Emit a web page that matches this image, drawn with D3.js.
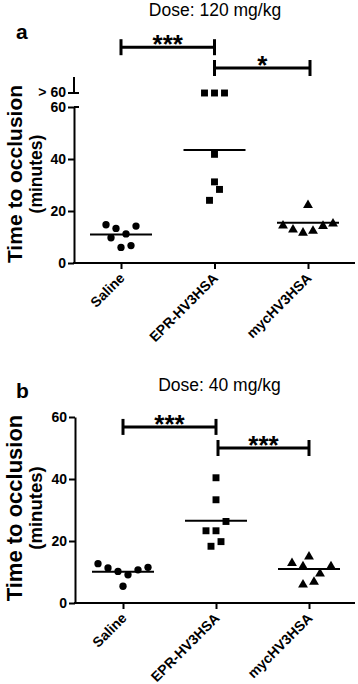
<!DOCTYPE html>
<html>
<head>
<meta charset="utf-8">
<script src="https://cdn.jsdelivr.net/npm/d3@7"></script>
<style>
  html, body { margin: 0; padding: 0; background: #fff; }
  svg { display: block; font-family: Arial, "Liberation Sans", sans-serif; }
</style>
</head>
<body>
<svg id="chart" width="358" height="684"></svg>
<script>
// ---------------- DATA ----------------
const categories = ["Saline", "EPR-HV3HSA", "mycHV3HSA"];
const yTickValues = [0, 20, 40, 60];
const overflowLabel = "> 60";

// Panel a: Dose 120 mg/kg (minutes; 60 = censored ">60")
const salineA = [14.7, 13.3, 14.2, 9.7, 11.2, 6.0, 6.7];
const salineA_slot = [-3, -1, 3, -2, 1, 0, 2];
const eprA = [60, 60, 60, 41.8, 31.2, 28.3, 24.1];
const eprA_censored = [true, true, true, false, false, false, false];
const eprA_slot = [-2, 0, 2, 0, 0, 1, -1];
const mycA = [22.6, 14.7, 13.2, 12.0, 12.7, 14.6, 15.5];
const mycA_slot = [0, -5, -3, -1, 1, 3, 5];
const meansA = [11.0, 43.5, 15.5];
const compA = [["Saline", "EPR-HV3HSA", "***"], ["EPR-HV3HSA", "mycHV3HSA", "*"]];

// Panel b: Dose 40 mg/kg
const salineB = [12.7, 11.3, 10.2, 9.1, 10.7, 11.5, 5.4];
const salineB_slot = [-5, -3, -1, 1, 3, 5, 0];
const eprB = [40.4, 33.3, 26.3, 23.3, 23.3, 19.8, 18.3];
const eprB_slot = [0, 0, 2, -2, 0, 1, -1];
const mycB = [13.2, 15.3, 12.1, 12.1, 9.8, 6.2, 7.1];
const mycB_slot = [-3.4, 0, -1.2, 4.4, 2.2, -1.2, 1];
const meansB = [10.1, 26.5, 11.0];
const compB = [["Saline", "EPR-HV3HSA", "***"], ["EPR-HV3HSA", "mycHV3HSA", "***"]];

// ---------------- DRAW ----------------
const svg = d3.select("#chart");
const FONT = "Arial, 'Liberation Sans', sans-serif";
const shapes = [d3.symbolCircle, d3.symbolSquare, d3.symbolTriangle];
const shapeSizes = [42, 48, 42];

function drawPanel(cfg) {
  const g = svg.append("g");
  const y = d3.scaleLinear().domain([0, 60]).range([cfg.y0, cfg.y60]);
  const x = d3.scalePoint().domain(categories).range(cfg.xRange);
  const slotPx = 5;

  // title + panel letter
  g.append("text").attr("x", cfg.titleX).attr("y", cfg.titleY)
    .attr("text-anchor", "middle").attr("font-size", 17.5).text(cfg.title);
  g.append("text").attr("x", 16).attr("y", cfg.letterY)
    .attr("font-size", 21).attr("font-weight", "bold").text(cfg.letter);

  // y axis title
  const midY = (cfg.y0 + cfg.y60) / 2 + cfg.titleShift;
  g.append("text").attr("transform", `translate(22,${midY}) rotate(-90)`)
    .attr("text-anchor", "middle").attr("font-weight", "bold")
    .attr("font-size", cfg.ytFont1).text("Time to occlusion");
  g.append("text").attr("transform", `translate(42,${midY}) rotate(-90)`)
    .attr("text-anchor", "middle").attr("font-weight", "bold")
    .attr("font-size", cfg.ytFont2).text("(minutes)");

  // y axis
  const yAxis = g.append("g").attr("transform", `translate(${cfg.axisX},0)`)
    .call(d3.axisLeft(y).tickValues(yTickValues).tickSize(6).tickSizeOuter(0).tickPadding(2));
  yAxis.select(".domain").attr("stroke-width", 2).attr("stroke", "#000");
  yAxis.selectAll(".tick line").attr("stroke-width", 2).attr("stroke", "#000");
  yAxis.selectAll(".tick text").attr("font-size", 14).attr("font-weight", "bold")
    .attr("fill", "#000").attr("font-family", FONT);

  // axis break with overflow row
  if (cfg.overY !== undefined) {
    g.append("line").attr("x1", cfg.axisX).attr("x2", cfg.axisX)
      .attr("y1", cfg.overY - 16).attr("y2", cfg.overY)
      .attr("stroke", "#000").attr("stroke-width", 2);
    g.append("line").attr("x1", cfg.axisX - 6).attr("x2", cfg.axisX + 5)
      .attr("y1", cfg.overY).attr("y2", cfg.overY)
      .attr("stroke", "#000").attr("stroke-width", 2);
    g.append("line").attr("x1", cfg.axisX).attr("x2", cfg.axisX + 5)
      .attr("y1", y(60)).attr("y2", y(60))
      .attr("stroke", "#000").attr("stroke-width", 2);
    g.append("text").attr("x", cfg.axisX - 8).attr("y", cfg.overY).attr("dy", "0.32em")
      .attr("text-anchor", "end").attr("font-size", 14).attr("font-weight", "bold")
      .text(overflowLabel);
  }

  // x axis
  g.append("line").attr("x1", cfg.axisX - 1).attr("x2", 355)
    .attr("y1", cfg.y0).attr("y2", cfg.y0)
    .attr("stroke", "#000").attr("stroke-width", 2);
  const xAxis = g.append("g").attr("transform", `translate(0,${cfg.y0})`)
    .call(d3.axisBottom(x).tickSize(6).tickSizeOuter(0));
  xAxis.select(".domain").remove();
  xAxis.selectAll(".tick line").attr("stroke-width", 2).attr("stroke", "#000");
  xAxis.selectAll(".tick text")
    .attr("font-size", 14).attr("font-weight", "bold").attr("fill", "#000")
    .attr("font-family", FONT)
    .attr("text-anchor", "end").attr("y", 0).attr("dy", 0)
    .attr("transform", "translate(4,16) rotate(-45)");

  // points
  cfg.series.forEach((s, i) => {
    const cx = x(categories[i]);
    g.append("g").selectAll("path").data(s.values).join("path")
      .attr("d", d3.symbol().type(shapes[i]).size(shapeSizes[i]))
      .attr("transform", (d, j) => {
        const py = (s.censored && s.censored[j]) ? cfg.overY : y(d);
        const oy = i === 2 ? 1 : 0;
        return `translate(${cx + s.slot[j] * slotPx},${py + oy})`;
      })
      .attr("fill", "#000");
  });

  // mean lines
  g.append("g").selectAll("line").data(cfg.means).join("line")
    .attr("x1", (d, i) => x(categories[i]) - 31)
    .attr("x2", (d, i) => x(categories[i]) + 31)
    .attr("y1", d => y(d)).attr("y2", d => y(d))
    .attr("stroke", "#000").attr("stroke-width", 2);

  // significance brackets
  cfg.comps.forEach((c, k) => {
    const by = y(cfg.compLevels[k]);
    const x1 = x(c[0]) + cfg.compInset[k][0], x2 = x(c[1]) + cfg.compInset[k][1];
    const bg = g.append("g");
    bg.append("line").attr("x1", x1).attr("x2", x2).attr("y1", by).attr("y2", by)
      .attr("stroke", "#000").attr("stroke-width", 3);
    [x1, x2].forEach(xx => bg.append("line").attr("x1", xx).attr("x2", xx)
      .attr("y1", by - 8).attr("y2", by + 8)
      .attr("stroke", "#000").attr("stroke-width", 3));
    bg.append("text").attr("x", (x1 + x2) / 2).attr("y", by + 6)
      .attr("text-anchor", "middle").attr("font-size", 26).attr("font-weight", "bold")
      .text(c[2]);
  });
}

drawPanel({
  title: "Dose: 120 mg/kg", titleX: 215, titleY: 16, letter: "a", letterY: 39,
  y0: 263, y60: 107, overY: 93, axisX: 74, xRange: [121, 308],
  titleShift: -11, ytFont1: 21, ytFont2: 17.5,
  series: [
    { values: salineA, slot: salineA_slot },
    { values: eprA, slot: eprA_slot, censored: eprA_censored },
    { values: mycA, slot: mycA_slot }
  ],
  means: meansA,
  comps: compA, compLevels: [83, 75], compInset: [[0, 0], [0, 2]]
});

drawPanel({
  title: "Dose: 40 mg/kg", titleX: 219.5, titleY: 391, letter: "b", letterY: 398,
  y0: 603, y60: 417, axisX: 75, xRange: [123, 309],
  titleShift: -2, ytFont1: 22, ytFont2: 18.5,
  series: [
    { values: salineB, slot: salineB_slot },
    { values: eprB, slot: eprB_slot },
    { values: mycB, slot: mycB_slot }
  ],
  means: meansB,
  comps: compB, compLevels: [56.8, 50], compInset: [[0, 0], [2, 0]]
});
</script>
</body>
</html>
